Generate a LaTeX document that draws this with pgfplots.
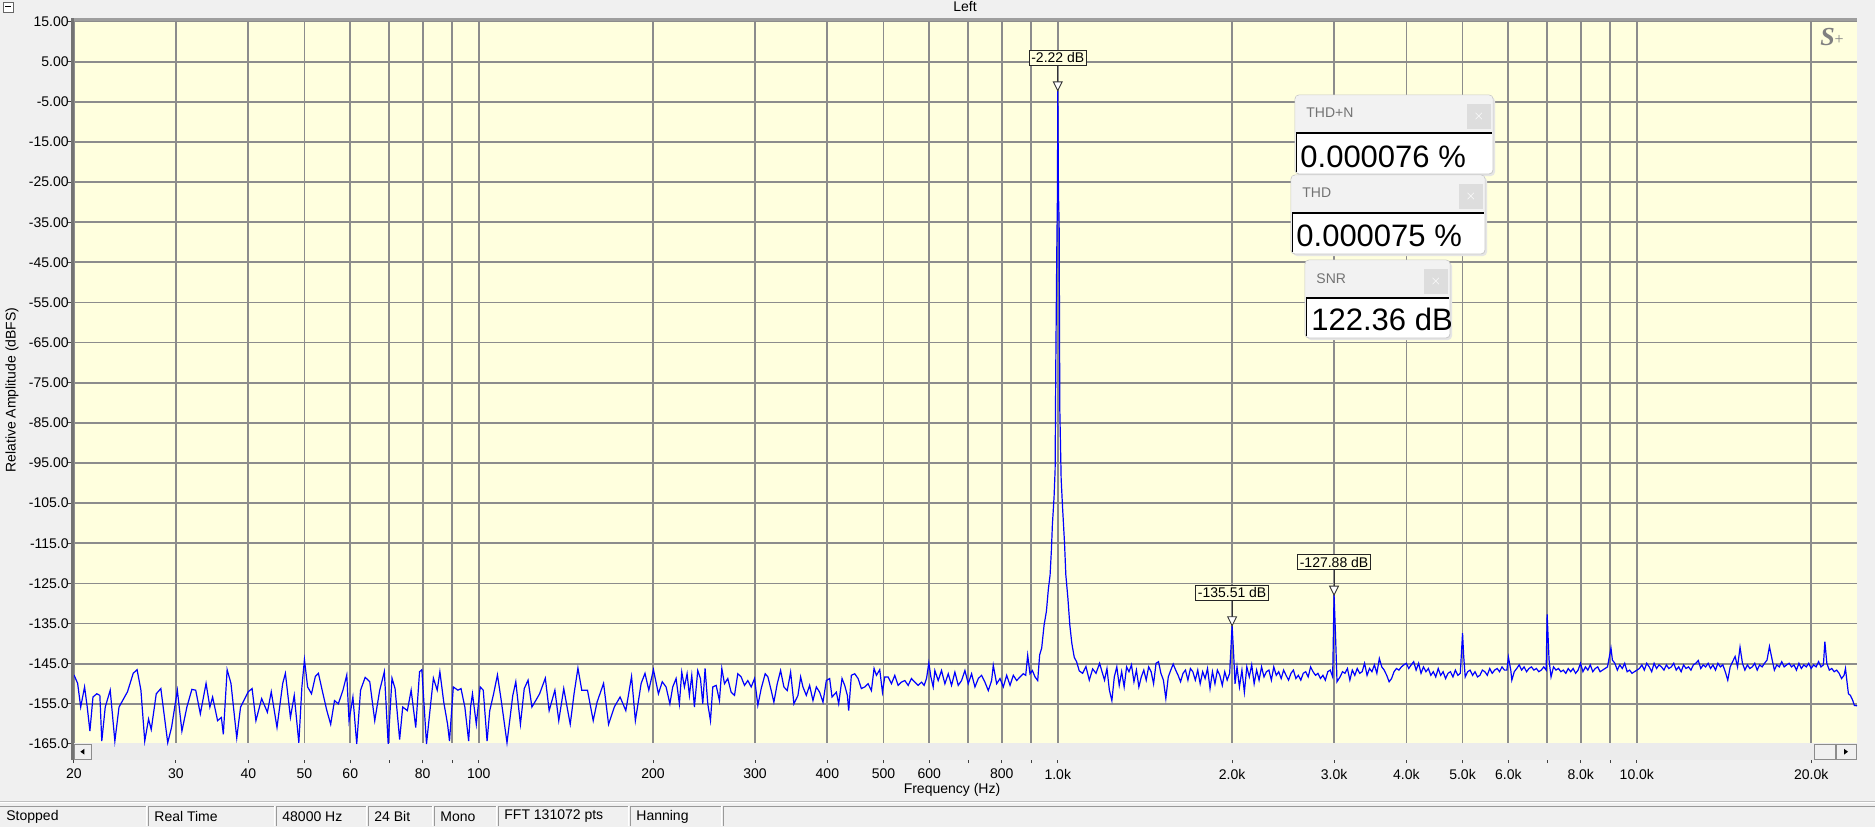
\documentclass[border=0pt]{standalone}
\usepackage{fontspec}
\setmainfont{Liberation Sans}
\newfontfamily\logofont{Liberation Serif}
\usepackage{pgfplots}
\usepackage{pgfplotstable}
\pgfplotsset{compat=1.18}
\definecolor{bgyel}{RGB}{255,255,222}
\definecolor{winbg}{RGB}{240,240,240}
\definecolor{gridc}{RGB}{140,140,140}
\definecolor{bandc}{RGB}{236,236,236}
\definecolor{hdr}{RGB}{242,242,242}
\definecolor{closec}{RGB}{221,221,221}
\definecolor{trace}{RGB}{0,0,255}

\pgfdeclareplotmark{peak}{%
  \pgfpathmoveto{\pgfqpoint{0pt}{4.2pt}}%
  \pgfpathlineto{\pgfqpoint{0pt}{12.5pt}}%
  \pgfusepathqstroke
  \pgfpathmoveto{\pgfqpoint{0pt}{0pt}}%
  \pgfpathlineto{\pgfqpoint{-2.2pt}{4.4pt}}%
  \pgfpathlineto{\pgfqpoint{2.2pt}{4.4pt}}%
  \pgfpathclose
  \pgfusepathqfillstroke
}

% x = log10(frequency in Hz), y = relative amplitude in dBFS
\pgfplotstableread{
logf dB
1.3010 -147.8
1.3073 -149.9
1.3126 -155.8
1.3193 -150.8
1.3239 -155.8
1.3285 -161.8
1.3338 -153.3
1.3404 -152.5
1.3457 -152.9
1.3490 -164.3
1.3550 -155.8
1.3636 -151.6
1.3716 -164.3
1.3788 -155.8
1.3934 -152.0
1.4033 -147.4
1.4100 -146.5
1.4166 -151.6
1.4232 -164.3
1.4298 -158.8
1.4344 -161.4
1.4431 -152.5
1.4510 -151.2
1.4629 -164.7
1.4695 -160.9
1.4795 -151.6
1.4874 -161.8
1.4960 -155.8
1.5046 -151.4
1.5112 -151.6
1.5192 -157.5
1.5291 -149.9
1.5357 -155.8
1.5404 -153.3
1.5490 -159.2
1.5556 -158.4
1.5589 -162.6
1.5655 -146.5
1.5721 -149.9
1.5821 -163.5
1.5887 -155.8
1.6019 -152.0
1.6086 -151.2
1.6152 -159.2
1.6251 -153.7
1.6350 -157.1
1.6417 -152.0
1.6516 -160.9
1.6615 -149.9
1.6661 -147.4
1.6748 -158.4
1.6814 -152.9
1.6893 -164.7
1.6946 -150.8
1.6990 -144.0
1.7045 -150.8
1.7112 -152.5
1.7178 -148.2
1.7231 -147.4
1.7310 -152.5
1.7377 -156.7
1.7443 -160.1
1.7509 -154.2
1.7575 -155.0
1.7655 -151.6
1.7721 -147.8
1.7760 -159.2
1.7827 -153.3
1.7893 -165.0
1.7959 -151.6
1.8039 -148.4
1.8118 -149.5
1.8204 -159.2
1.8290 -151.6
1.8370 -147.0
1.8436 -165.0
1.8502 -148.6
1.8555 -151.2
1.8634 -163.9
1.8687 -155.8
1.8767 -156.7
1.8833 -151.6
1.8912 -160.9
1.8978 -147.0
1.9018 -146.5
1.9098 -165.0
1.9164 -155.8
1.9217 -148.6
1.9283 -151.6
1.9329 -147.0
1.9396 -154.6
1.9462 -160.1
1.9495 -164.3
1.9561 -150.8
1.9640 -151.6
1.9694 -151.2
1.9760 -155.8
1.9826 -164.3
1.9859 -155.8
1.9892 -152.5
1.9958 -160.1
2.0025 -150.8
2.0078 -151.6
2.0144 -164.3
2.0190 -156.7
2.0257 -152.5
2.0323 -147.8
2.0389 -154.2
2.0488 -164.7
2.0588 -152.9
2.0640 -149.5
2.0720 -160.1
2.0786 -151.2
2.0852 -149.1
2.0918 -155.8
2.0984 -154.2
2.1051 -152.5
2.1150 -148.6
2.1216 -156.7
2.1315 -151.6
2.1382 -159.2
2.1468 -151.2
2.1580 -160.1
2.1646 -152.5
2.1713 -146.1
2.1779 -151.6
2.1878 -151.6
2.1977 -159.2
2.2043 -154.6
2.2156 -149.9
2.2242 -160.1
2.2341 -155.8
2.2441 -153.3
2.2540 -156.7
2.2639 -148.2
2.2705 -159.2
2.2805 -149.9
2.2871 -147.4
2.2937 -151.6
2.3017 -146.5
2.3103 -152.5
2.3169 -149.5
2.3235 -150.8
2.3301 -155.0
2.3350 -150.8
2.3408 -148.7
2.3465 -155.0
2.3506 -147.1
2.3552 -150.8
2.3598 -147.5
2.3638 -152.9
2.3679 -147.9
2.3725 -155.8
2.3782 -146.7
2.3829 -148.7
2.3869 -155.0
2.3909 -146.2
2.3955 -155.0
2.4002 -159.2
2.4042 -150.8
2.4100 -150.4
2.4157 -154.2
2.4198 -146.2
2.4244 -150.0
2.4301 -148.7
2.4359 -152.1
2.4417 -152.9
2.4474 -147.5
2.4532 -148.3
2.4590 -150.4
2.4647 -149.2
2.4705 -150.8
2.4763 -148.7
2.4820 -155.4
2.4878 -151.2
2.4947 -147.5
2.4994 -148.3
2.5051 -151.7
2.5097 -154.6
2.5155 -150.0
2.5213 -146.7
2.5270 -150.8
2.5328 -151.7
2.5386 -147.1
2.5443 -155.0
2.5513 -152.9
2.5559 -148.3
2.5599 -150.8
2.5657 -152.9
2.5714 -150.4
2.5772 -154.2
2.5830 -150.8
2.5887 -152.1
2.5945 -154.6
2.6003 -149.2
2.6060 -148.7
2.6101 -153.3
2.6176 -152.1
2.6216 -155.0
2.6274 -148.7
2.6320 -150.4
2.6366 -152.9
2.6389 -156.7
2.6435 -147.9
2.6493 -147.5
2.6551 -148.7
2.6608 -151.2
2.6666 -150.8
2.6724 -150.0
2.6781 -151.7
2.6827 -146.2
2.6868 -147.9
2.6925 -146.5
2.6972 -152.1
2.7012 -148.3
2.7070 -148.3
2.7127 -150.0
2.7185 -147.9
2.7243 -150.4
2.7300 -149.6
2.7358 -149.2
2.7416 -150.4
2.7473 -148.7
2.7531 -149.6
2.7589 -150.4
2.7646 -149.6
2.7692 -150.4
2.7733 -148.7
2.7773 -144.8
2.7808 -148.3
2.7848 -150.8
2.7877 -146.7
2.7935 -149.2
2.7992 -146.7
2.8050 -150.0
2.8108 -147.5
2.8165 -150.4
2.8223 -147.1
2.8281 -150.4
2.8338 -149.2
2.8396 -146.7
2.8454 -150.0
2.8511 -147.5
2.8569 -150.8
2.8627 -148.7
2.8684 -147.9
2.8742 -149.6
2.8800 -151.7
2.8857 -149.2
2.8886 -145.4
2.8944 -150.0
2.9002 -148.7
2.9059 -150.8
2.9117 -147.9
2.9175 -150.4
2.9232 -147.9
2.9290 -149.2
2.9348 -148.3
2.9405 -147.5
2.9446 -147.9
2.9480 -142.9
2.9520 -147.5
2.9561 -146.7
2.9607 -148.3
2.9653 -149.2
2.9687 -142.8
2.9722 -141.1
2.9763 -135.4
2.9803 -132.0
2.9838 -126.3
2.9867 -122.9
2.9890 -116.6
2.9907 -110.3
2.9936 -103.4
2.9954 -96.6
2.9965 -71.5
2.9983 -41.8
2.9994 -28.1
3.0000 -2.22
3.0012 -28.1
3.0023 -35.0
3.0035 -81.8
3.0058 -98.9
3.0081 -105.7
3.0116 -114.9
3.0139 -122.9
3.0174 -128.6
3.0208 -135.4
3.0243 -140.0
3.0284 -143.4
3.0324 -144.5
3.0371 -146.8
3.0428 -147.4
3.0486 -145.7
3.0544 -149.1
3.0602 -146.3
3.0660 -147.4
3.0722 -144.9
3.0764 -147.0
3.0807 -149.1
3.0849 -146.2
3.0891 -151.6
3.0934 -154.2
3.0976 -148.3
3.1019 -145.8
3.1061 -150.4
3.1103 -147.0
3.1146 -150.8
3.1188 -145.8
3.1230 -147.0
3.1273 -145.3
3.1315 -149.5
3.1358 -146.6
3.1400 -150.8
3.1442 -148.3
3.1485 -146.6
3.1527 -149.1
3.1569 -145.8
3.1612 -147.0
3.1654 -150.0
3.1697 -144.9
3.1739 -144.5
3.1781 -147.4
3.1824 -149.1
3.1866 -153.7
3.1908 -148.3
3.1951 -146.6
3.1993 -145.1
3.2036 -146.6
3.2078 -147.9
3.2120 -149.5
3.2163 -147.4
3.2205 -146.6
3.2247 -149.1
3.2290 -146.2
3.2332 -147.0
3.2375 -149.1
3.2417 -146.6
3.2459 -150.0
3.2502 -147.0
3.2544 -148.7
3.2586 -146.2
3.2629 -151.2
3.2671 -147.0
3.2714 -150.0
3.2756 -146.6
3.2798 -147.9
3.2841 -150.4
3.2883 -147.0
3.2925 -149.1
3.2968 -147.4
3.3010 -135.51
3.3036 -142.4
3.3061 -150.0
3.3095 -145.8
3.3137 -150.8
3.3180 -146.6
3.3222 -152.1
3.3264 -145.8
3.3307 -148.3
3.3349 -145.3
3.3391 -150.0
3.3434 -146.6
3.3476 -149.1
3.3519 -145.8
3.3561 -148.3
3.3603 -147.0
3.3646 -146.6
3.3688 -149.1
3.3730 -145.8
3.3773 -147.9
3.3815 -147.0
3.3858 -148.7
3.3900 -146.6
3.3942 -147.9
3.3985 -149.1
3.4027 -147.4
3.4069 -146.6
3.4112 -148.7
3.4154 -147.9
3.4197 -149.1
3.4239 -147.4
3.4281 -147.0
3.4324 -148.3
3.4366 -145.8
3.4408 -147.0
3.4451 -147.9
3.4493 -147.4
3.4536 -148.7
3.4578 -147.9
3.4620 -149.1
3.4663 -147.0
3.4705 -146.6
3.4747 -148.3
3.4771 -127.88
3.4797 -138.2
3.4822 -149.5
3.4875 -148.3
3.4917 -147.0
3.4959 -147.4
3.5002 -146.2
3.5044 -149.1
3.5086 -146.6
3.5129 -147.9
3.5171 -146.2
3.5214 -147.4
3.5256 -147.0
3.5298 -144.9
3.5341 -147.9
3.5383 -146.2
3.5425 -147.0
3.5468 -145.3
3.5510 -147.4
3.5553 -143.7
3.5595 -145.8
3.5637 -146.6
3.5680 -147.9
3.5722 -149.5
3.5764 -148.7
3.5807 -147.0
3.5849 -146.2
3.5892 -146.6
3.5934 -145.8
3.5976 -145.3
3.6019 -144.9
3.6061 -146.2
3.6103 -145.3
3.6146 -144.5
3.6188 -146.6
3.6231 -144.9
3.6273 -147.4
3.6315 -145.8
3.6358 -147.0
3.6400 -146.2
3.6442 -147.9
3.6485 -147.0
3.6527 -148.3
3.6570 -146.2
3.6612 -147.9
3.6654 -147.0
3.6697 -148.7
3.6739 -147.4
3.6781 -147.0
3.6824 -148.3
3.6866 -146.6
3.6909 -147.9
3.6951 -147.4
3.6990 -137.4
3.7010 -143.2
3.7036 -148.3
3.7078 -147.0
3.7120 -146.6
3.7163 -147.9
3.7205 -147.0
3.7248 -148.3
3.7290 -147.9
3.7332 -146.6
3.7375 -147.0
3.7417 -147.9
3.7459 -146.2
3.7502 -147.4
3.7544 -146.6
3.7587 -146.2
3.7629 -147.0
3.7671 -145.8
3.7714 -146.6
3.7756 -146.6
3.7782 -143.4
3.7823 -146.6
3.7841 -149.1
3.7883 -147.0
3.7926 -146.2
3.7968 -145.3
3.8010 -146.6
3.8053 -145.8
3.8095 -147.0
3.8137 -146.2
3.8180 -145.8
3.8222 -146.6
3.8265 -146.2
3.8307 -147.0
3.8349 -146.6
3.8392 -145.8
3.8434 -146.6
3.8451 -132.7
3.8484 -144.1
3.8518 -148.3
3.8561 -145.8
3.8603 -146.6
3.8646 -146.2
3.8688 -147.0
3.8730 -146.6
3.8773 -147.4
3.8815 -146.2
3.8857 -147.0
3.8900 -146.2
3.8942 -147.4
3.8985 -146.6
3.9027 -144.9
3.9069 -147.0
3.9112 -145.8
3.9154 -146.6
3.9196 -145.3
3.9239 -147.0
3.9281 -146.2
3.9324 -145.8
3.9366 -147.0
3.9408 -146.6
3.9451 -146.2
3.9493 -145.8
3.9553 -141.1
3.9578 -144.1
3.9620 -144.9
3.9663 -146.6
3.9705 -145.3
3.9748 -146.2
3.9790 -144.9
3.9832 -147.0
3.9875 -146.6
3.9917 -147.4
3.9959 -147.0
4.0002 -146.6
4.0044 -146.2
4.0087 -145.3
4.0129 -146.6
4.0171 -144.9
4.0214 -145.8
4.0256 -147.0
4.0298 -144.9
4.0341 -146.2
4.0383 -145.3
4.0426 -145.8
4.0468 -146.6
4.0510 -145.3
4.0553 -146.2
4.0595 -145.8
4.0637 -144.9
4.0680 -146.6
4.0722 -145.8
4.0765 -147.0
4.0807 -145.3
4.0849 -146.2
4.0892 -145.8
4.0934 -146.6
4.0976 -145.3
4.1019 -144.9
4.1061 -144.2
4.1104 -146.2
4.1146 -145.3
4.1188 -145.8
4.1231 -144.9
4.1273 -146.2
4.1315 -145.3
4.1358 -146.6
4.1400 -144.9
4.1443 -145.8
4.1485 -145.3
4.1527 -147.0
4.1570 -149.1
4.1612 -145.8
4.1654 -144.5
4.1697 -143.2
4.1739 -145.8
4.1782 -140.9
4.1824 -144.9
4.1866 -146.6
4.1909 -145.3
4.1951 -146.2
4.1993 -145.8
4.2036 -144.9
4.2078 -146.6
4.2121 -145.3
4.2163 -145.8
4.2205 -144.9
4.2248 -144.1
4.2290 -140.7
4.2332 -143.7
4.2375 -146.6
4.2417 -145.3
4.2460 -145.8
4.2502 -144.5
4.2544 -145.8
4.2587 -145.3
4.2629 -144.9
4.2671 -145.8
4.2714 -145.3
4.2756 -146.6
4.2799 -144.9
4.2841 -146.2
4.2883 -145.3
4.2926 -145.8
4.2968 -144.9
4.3010 -146.2
4.3053 -145.3
4.3095 -145.8
4.3138 -144.5
4.3180 -145.8
4.3222 -145.3
4.3247 -139.5
4.3281 -144.9
4.3324 -146.6
4.3366 -146.2
4.3408 -147.0
4.3451 -146.6
4.3493 -147.4
4.3535 -148.7
4.3578 -147.9
4.3603 -146.2
4.3629 -149.5
4.3654 -152.5
4.3688 -152.9
4.3730 -154.2
4.3756 -155.4
4.3802 -155.5
}\spectrum

\begin{document}
\begin{tikzpicture}[font=\fontsize{7}{8.4}\selectfont]
% window background
\fill[winbg] (-37pt,-33.5pt) rectangle (900.5pt,380pt);

\begin{axis}[
  at={(0pt,0pt)}, anchor=south west,
  scale only axis, width=891.5pt, height=369.25pt,
  xmin=1.30103, xmax=4.380211, ymin=-169, ymax=15,
  axis background/.style={fill=bgyel},
  axis line style={draw=none},
  tick pos=left, tick align=outside,
  xtick={1.30103,1.47712,1.60206,1.69897,1.77815,1.84510,1.90309,1.95424,2,
         2.30103,2.47712,2.60206,2.69897,2.77815,2.84510,2.90309,2.95424,3,
         3.30103,3.47712,3.60206,3.69897,3.77815,3.84510,3.90309,3.95424,4,4.30103},
  xticklabels={20,30,40,50,60,{},80,{},100,200,300,400,500,600,{},800,{},1.0k,
               2.0k,3.0k,4.0k,5.0k,6.0k,{},8.0k,{},10.0k,20.0k},
  ytick={15,5,-5,-15,-25,-35,-45,-55,-65,-75,-85,-95,-105,-115,-125,-135,-145,-155,-165},
  yticklabels={15.00,5.00,-5.00,-15.00,-25.00,-35.00,-45.00,-55.00,-65.00,-75.00,
               -85.00,-95.00,-105.0,-115.0,-125.0,-135.0,-145.0,-155.0,-165.0},
  grid=major, major grid style={draw=gridc, line width=0.9pt},
  tick style={draw=black!75, line width=0.5pt},
  xtick style={/pgfplots/major tick length=1.6pt},
  ytick style={/pgfplots/major tick length=3pt},
  ticklabel style={font=\fontsize{7}{8}\selectfont, text=black},
  yticklabel style={anchor=east, inner sep=0.6pt, xshift=2.4pt},
  xticklabel style={anchor=north, inner sep=0.6pt, yshift=0.6pt},
]
% horizontal scroll band under the plot area
\fill[bandc] (axis cs:1.30103,-169) rectangle (axis cs:4.380211,-164.78);
\addplot[trace, line width=0.6pt] table[x=logf, y=dB] {\spectrum};
\addplot[only marks, mark=peak,
  mark options={draw=black!80, fill=white, line width=0.45pt},
  point meta=explicit symbolic,
  nodes near coords,
  nodes near coords align={anchor=south},
  every node near coord/.append style={anchor=south, yshift=12.5pt, draw=black!85,
     fill=bgyel, inner sep=1.1pt, line width=0.5pt, text=black,
     font=\fontsize{7}{8}\selectfont},
] coordinates {(3,-2.22) [-2.22 dB] (3.30103,-135.51) [-135.51 dB] (3.47712,-127.88) [-127.88 dB]};
\end{axis}

% frame borders of the plot area
\fill[black!38] (-1.5pt,369.25pt) rectangle (891.5pt,370.8pt);
\fill[black!55] (-1.5pt,0pt) rectangle (0pt,370.8pt);

% scroll buttons
\filldraw[fill=winbg, draw=black!45, line width=0.4pt] (0pt,0.3pt) rectangle (8.5pt,8pt);
\fill[black] (3.2pt,4.15pt) -- (5.2pt,5.6pt) -- (5.2pt,2.7pt) -- cycle;
\filldraw[fill=winbg, draw=black!45, line width=0.4pt] (870pt,0.3pt) rectangle (880.5pt,8pt);
\filldraw[fill=winbg, draw=black!45, line width=0.4pt] (881pt,0.3pt) rectangle (891pt,8pt);
\fill[black] (887pt,4.15pt) -- (885pt,5.6pt) -- (885pt,2.7pt) -- cycle;

% title, collapse box, logo
\node at (445.5pt,376.5pt) {Left};
\draw[black!60, line width=0.4pt, fill=white] (-35.5pt,374pt) rectangle (-30.5pt,379pt);
\draw[black, line width=0.5pt] (-34.3pt,376.5pt) -- (-31.7pt,376.5pt);
\node[text=black!50, inner sep=0pt] at (879pt,361.5pt)
  {\logofont\bfseries\itshape\fontsize{13}{13}\selectfont S\raisebox{0.5pt}{\fontsize{8}{8}\selectfont\upshape\mdseries +}};

% axis labels
\node[rotate=90] at (-31pt,185pt) {Relative Amplitude (dBFS)};
\node at (439pt,-14.8pt) {Frequency (Hz)};

% THD+N box
\fill[black!10, rounded corners=2pt] (611.5pt,292pt) rectangle (710.5pt,331.5pt);
\filldraw[fill=white, draw=black!22, rounded corners=2pt, line width=0.4pt] (610.5pt,293pt) rectangle (709.5pt,332.5pt);
\fill[hdr, rounded corners=1.5pt] (610.8pt,313.5pt) rectangle (709.2pt,332.2pt);
\fill[closec] (696.5pt,315.5pt) rectangle (708.5pt,328pt);
\node[text=white, inner sep=0pt] at (702.5pt,321.8pt) {\fontsize{6}{6}\selectfont $\times$};
\node[anchor=west, text=black!55, inner sep=0pt] at (616pt,323.5pt) {THD+N};
\draw[black, line width=0.6pt] (611pt,313.5pt) -- (709.2pt,313.5pt);
\draw[black, line width=0.5pt] (611pt,313.5pt) -- (611pt,294pt);
\node[anchor=base west, inner sep=0pt] at (613pt,296.5pt) {\fontsize{15.5}{16}\selectfont 0.000076 \%};

% THD box
\fill[black!10, rounded corners=2pt] (609.5pt,252pt) rectangle (706.5pt,291.5pt);
\filldraw[fill=white, draw=black!22, rounded corners=2pt, line width=0.4pt] (608.5pt,253pt) rectangle (705.5pt,292.5pt);
\fill[hdr, rounded corners=1.5pt] (608.8pt,273.5pt) rectangle (705.2pt,292.2pt);
\fill[closec] (692.5pt,275.5pt) rectangle (704.5pt,288pt);
\node[text=white, inner sep=0pt] at (698.5pt,281.8pt) {\fontsize{6}{6}\selectfont $\times$};
\node[anchor=west, text=black!55, inner sep=0pt] at (614pt,283.5pt) {THD};
\draw[black, line width=0.6pt] (609pt,273.5pt) -- (705.2pt,273.5pt);
\draw[black, line width=0.5pt] (609pt,273.5pt) -- (609pt,254pt);
\node[anchor=base west, inner sep=0pt] at (611pt,257pt) {\fontsize{15.5}{16}\selectfont 0.000075 \%};

% SNR box
\fill[black!10, rounded corners=2pt] (616.5pt,210pt) rectangle (689pt,249pt);
\filldraw[fill=white, draw=black!22, rounded corners=2pt, line width=0.4pt] (615.5pt,211pt) rectangle (688pt,250pt);
\fill[hdr, rounded corners=1.5pt] (615.8pt,231pt) rectangle (687.7pt,249.7pt);
\fill[closec] (675pt,233pt) rectangle (687pt,245.5pt);
\node[text=white, inner sep=0pt] at (681pt,239.3pt) {\fontsize{6}{6}\selectfont $\times$};
\node[anchor=west, text=black!55, inner sep=0pt] at (621pt,240.5pt) {SNR};
\draw[black, line width=0.6pt] (616pt,231pt) -- (687.7pt,231pt);
\draw[black, line width=0.5pt] (616pt,231pt) -- (616pt,212pt);
\begin{scope}
\clip (615.5pt,211pt) rectangle (688pt,231pt);
\node[anchor=base west, inner sep=0pt] at (618.5pt,214.6pt) {\fontsize{15.5}{16}\selectfont 122.36 dB};
\end{scope}

% status bar
\draw[black!25, line width=0.5pt] (-37pt,-20.5pt) -- (900.5pt,-20.5pt);
\draw[white, line width=0.5pt] (-37pt,-21pt) -- (900.5pt,-21pt);
\foreach \a/\b/\t in {-37/36/Stopped, 37/100/Real Time, 101/146/48000 Hz, 147/179/24 Bit,
                      180/211/Mono, 212/277/FFT 131072 pts, 278/323.5/Hanning, 324.5/900.5/{}} {
  \draw[black!40, line width=0.5pt] (\a pt,-33pt) -- (\a pt,-23pt) -- (\b pt,-23pt);
  \draw[white, line width=0.5pt] (\b pt,-23pt) -- (\b pt,-33pt);
  \node[anchor=west, inner sep=0pt] at ([xshift=3pt]\a pt,-28.2pt) {\t};
}

\pgfresetboundingbox
\path[use as bounding box] (-37pt,-33.5pt) rectangle (900.5pt,380pt);
\end{tikzpicture}
\end{document}
